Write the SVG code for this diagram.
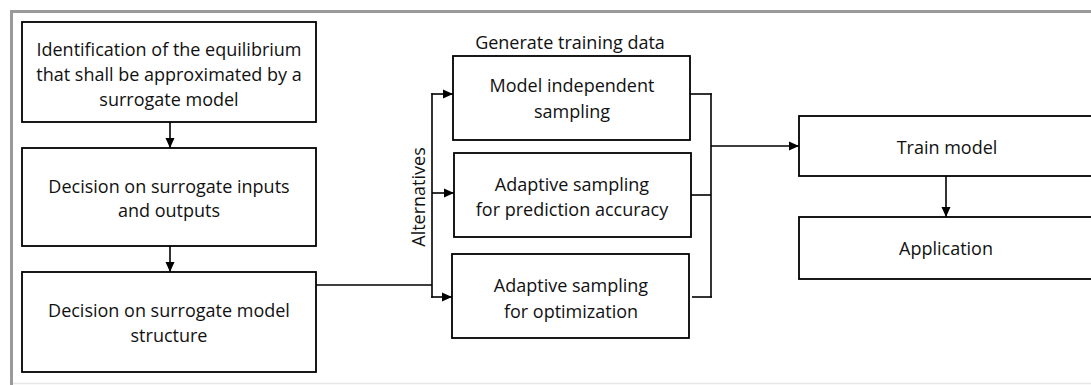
<svg xmlns="http://www.w3.org/2000/svg" width="1091" height="385" viewBox="0 0 1091 385">
<style>
.box{fill:#fff;stroke:#000;stroke-width:1.8}
.t{font-family:"Open Sans","Liberation Sans",sans-serif;font-size:18px;fill:#111;text-anchor:middle}
.c{fill:none;stroke:#000;stroke-width:1.6}
</style>
<defs>
<marker id="ah" viewBox="0 0 10 10" refX="10" refY="5" markerWidth="10" markerHeight="10" markerUnits="userSpaceOnUse" orient="auto">
<path d="M0,0.5 L10,5 L0,9.5 z" fill="#000"/>
</marker>
</defs>
<rect width="1091" height="385" fill="#fff"/>
<g id="frame">
<line x1="11.5" y1="11.5" x2="1091" y2="11.5" stroke="#9a9a9a" stroke-width="3"/>
<line x1="11.5" y1="10" x2="11.5" y2="385" stroke="#9a9a9a" stroke-width="3"/>
<line x1="13" y1="383.5" x2="1091" y2="383.5" stroke="#e6e6e6" stroke-width="1.5"/>
</g>
<g id="connectors">
<line class="c" x1="170" y1="122" x2="170" y2="148" marker-end="url(#ah)"/>
<line class="c" x1="170" y1="246" x2="170" y2="272" marker-end="url(#ah)"/>
<polyline class="c" points="316,285 432,285"/>
<line class="c" x1="432" y1="93.2" x2="432" y2="297.8"/>
<line class="c" x1="431.2" y1="94" x2="453" y2="94" marker-end="url(#ah)"/>
<line class="c" x1="432" y1="193" x2="454" y2="193" marker-end="url(#ah)"/>
<line class="c" x1="431.2" y1="297" x2="452" y2="297" marker-end="url(#ah)"/>
<line class="c" x1="690" y1="94" x2="711.8" y2="94"/>
<line class="c" x1="691" y1="195" x2="711" y2="195"/>
<line class="c" x1="692" y1="297" x2="711.8" y2="297"/>
<line class="c" x1="711" y1="93.2" x2="711" y2="297.8"/>
<line class="c" x1="711" y1="146" x2="799" y2="146" marker-end="url(#ah)"/>
<line class="c" x1="946" y1="176" x2="946" y2="217" marker-end="url(#ah)"/>
</g>
<g id="n1">
<rect class="box" x="22" y="22" width="294" height="100"/>
<text class="t" x="169" y="56">Identification of the equilibrium</text>
<text class="t" x="169" y="81">that shall be approximated by a</text>
<text class="t" x="169" y="106">surrogate model</text>
</g>
<g id="n2">
<rect class="box" x="22" y="148" width="294" height="98"/>
<text class="t" x="169" y="193">Decision on surrogate inputs</text>
<text class="t" x="169" y="217">and outputs</text>
</g>
<g id="n3">
<rect class="box" x="22" y="272" width="294" height="100"/>
<text class="t" x="169" y="317">Decision on surrogate model</text>
<text class="t" x="169" y="342">structure</text>
</g>
<g id="label-gen">
<text class="t" x="570" y="49">Generate training data</text>
</g>
<g id="label-alt">
<text class="t" x="0" y="0" transform="translate(425,197) rotate(-90)">Alternatives</text>
</g>
<g id="nA">
<rect class="box" x="453" y="56" width="237" height="84"/>
<text class="t" x="572" y="92">Model independent</text>
<text class="t" x="572" y="118">sampling</text>
</g>
<g id="nB">
<rect class="box" x="454" y="153" width="237" height="84"/>
<text class="t" x="572" y="191">Adaptive sampling</text>
<text class="t" x="572" y="216">for prediction accuracy</text>
</g>
<g id="nC">
<rect class="box" x="452" y="254" width="237" height="84"/>
<text class="t" x="571" y="292">Adaptive sampling</text>
<text class="t" x="571" y="318">for optimization</text>
</g>
<g id="nTrain">
<rect class="box" x="799" y="116" width="310" height="60"/>
<text class="t" x="947" y="154">Train model</text>
</g>
<g id="nApp">
<rect class="box" x="799" y="217" width="310" height="62"/>
<text class="t" x="946" y="255">Application</text>
</g>
</svg>
